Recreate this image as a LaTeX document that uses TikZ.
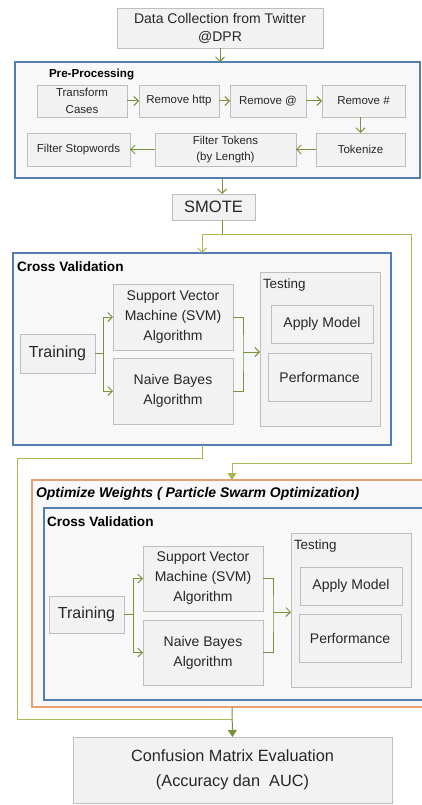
\documentclass[tikz,border=0pt]{standalone}
\usepackage{fontspec}
\setmainfont{Liberation Sans}
\usetikzlibrary{arrows.meta,shadows}
\definecolor{boxFill}{RGB}{242,242,242}
\definecolor{boxLine}{RGB}{190,190,190}
\definecolor{panelFill}{RGB}{248,248,248}
\definecolor{panelBlue}{RGB}{84,126,178}
\definecolor{panelOrange}{RGB}{232,160,112}
\definecolor{flowColor}{RGB}{119,147,60}
\definecolor{loopColor}{RGB}{170,184,84}
\definecolor{textColor}{RGB}{38,38,38}
\begin{document}
\begin{tikzpicture}[x=1pt,y=-1pt,
  stepbox/.style={draw=boxLine,line width=0.6pt,fill=boxFill,text=textColor,align=center,
    inner sep=0pt,outer sep=0pt,drop shadow={opacity=0.25,shadow xshift=1.2pt,shadow yshift=-1.2pt}},
  panel/.style={draw=panelBlue,line width=1.3pt,fill=panelFill,inner sep=0pt,outer sep=0pt,
    drop shadow={opacity=0.2,shadow xshift=1.2pt,shadow yshift=-1.2pt}},
  head/.style={text=black,anchor=west,inner sep=0pt,outer sep=0pt},
  small/.style={font=\fontsize{11.5}{16.5}\selectfont},
  mid/.style={font=\fontsize{14}{20}\selectfont},
  big/.style={font=\fontsize{16}{20}\selectfont},
  flow/.style={draw=flowColor,line width=1pt,-{Straight Barb[length=4.5pt,width=9pt]}},
  flowfill/.style={draw=flowColor,line width=1pt,-{Triangle[length=7pt,width=9pt]}},
  link/.style={draw=flowColor,line width=1pt},
  loop/.style={draw=loopColor,line width=1pt}]
\path[use as bounding box,fill=white] (0,0) rectangle (421,805);

\node[stepbox,font=\fontsize{14}{18}\selectfont,minimum width=206pt,minimum height=40pt] (data) at (220,28) {Data Collection from Twitter\\@DPR};

\node[panel,minimum width=405pt,minimum height=116pt] (prep) at (217.5,120) {};
\node[head,font=\bfseries\fontsize{11.6}{14}\selectfont] (prepTitle) at (49,75) {Pre-Processing};
\node[stepbox,small,minimum width=90pt,minimum height=32pt] (transform) at (82,101) {Transform\\Cases};
\node[stepbox,small,minimum width=80pt,minimum height=32pt] (http) at (179,101) {Remove http};
\node[stepbox,small,minimum width=76pt,minimum height=32pt] (mention) at (268,101) {Remove @};
\node[stepbox,small,minimum width=83pt,minimum height=32pt] (hashtag) at (363.5,101) {Remove \#};
\node[stepbox,small,minimum width=89pt,minimum height=33pt] (tokenize) at (360.5,149.5) {Tokenize};
\node[stepbox,small,minimum width=141pt,minimum height=33pt] (filterTok) at (225.5,149.5) {Filter Tokens\\(by Length)};
\node[stepbox,small,minimum width=103pt,minimum height=33pt] (stopword) at (78.5,149.5) {Filter Stopwords};

\node[stepbox,font=\fontsize{16.5}{20}\selectfont,minimum width=83pt,minimum height=26pt] (smote) at (213.5,207) {SMOTE};

\node[panel,minimum width=378pt,minimum height=192pt] (cvA) at (202,349) {};
\node[head,font=\bfseries\fontsize{13.6}{16}\selectfont] (cvTitleA) at (17,267) {Cross Validation};
\node[stepbox,big,minimum width=75pt,minimum height=39pt] (trainA) at (57.5,353.5) {Training};
\node[stepbox,mid,minimum width=120pt,minimum height=66pt] (svmA) at (173,317) {Support Vector\\Machine (SVM)\\Algorithm};
\node[stepbox,mid,minimum width=120pt,minimum height=66pt] (nbA) at (173,391) {Naive Bayes\\Algorithm};
\node[stepbox,minimum width=120pt,minimum height=154pt] (testA) at (320,349) {};
\node[head,text=textColor,font=\fontsize{13.4}{16}\selectfont] (testTitleA) at (263,285) {Testing};
\node[stepbox,mid,minimum width=102pt,minimum height=38pt] (applyA) at (322,324) {Apply Model};
\node[stepbox,mid,minimum width=103pt,minimum height=48pt] (perfA) at (319.5,377) {Performance};

\node[panel,draw=panelOrange,minimum width=400pt,minimum height=227pt] (pso) at (232,593.5) {};
\node[head,font=\bfseries\itshape\fontsize{14}{16}\selectfont] (psoTitle) at (36,494) {Optimize Weights ( Particle Swarm Optimization)};
\node[panel,minimum width=386pt,minimum height=192pt] (cvB) at (237,604) {};
\node[head,font=\bfseries\fontsize{13.6}{16}\selectfont] (cvTitleB) at (47,522) {Cross Validation};
\node[stepbox,big,minimum width=75pt,minimum height=37pt] (trainB) at (86.5,614.5) {Training};
\node[stepbox,mid,minimum width=120pt,minimum height=65pt] (svmB) at (203,578.5) {Support Vector\\Machine (SVM)\\Algorithm};
\node[stepbox,mid,minimum width=120pt,minimum height=65pt] (nbB) at (203,652.5) {Naive Bayes\\Algorithm};
\node[stepbox,minimum width=120pt,minimum height=154pt] (testB) at (351,610) {};
\node[head,text=textColor,font=\fontsize{13.4}{16}\selectfont] (testTitleB) at (294,546) {Testing};
\node[stepbox,mid,minimum width=102pt,minimum height=38pt] (applyB) at (351,586) {Apply Model};
\node[stepbox,mid,minimum width=102pt,minimum height=48pt] (perfB) at (350,638) {Performance};

\node[stepbox,font=\fontsize{16.3}{25}\selectfont,minimum width=319pt,minimum height=66pt] (conf) at (232.5,770) {Confusion Matrix Evaluation\\(Accuracy dan\ \ AUC)};

\coordinate (split) at (222,234);
\coordinate (rightTurn) at (411,463);
\coordinate (leftTurn) at (17,458);
\coordinate (merge) at (232,719);
\coordinate (joinA) at (243,352);
\coordinate (joinB) at (273,612);

\draw[flow] (data.south) -- (data.south |- prep.north);
\draw[flow] (transform) -- (http);
\draw[flow] (http) -- (mention);
\draw[flow] (mention) -- (hashtag);
\draw[flow] (hashtag.south -| tokenize.north) -- (tokenize.north);
\draw[flow] (tokenize) -- (filterTok);
\draw[flow] (filterTok) -- (stopword);
\draw[flow] (prep.south -| split) -- (smote.north -| split);
\draw[link] (smote.south -| split) -- (split);
\draw[flow,draw=loopColor] (split) -| (cvA.north);
\draw[flowfill,draw=loopColor] (split) -| (rightTurn) -| (pso.north);

\draw[flow] (trainA.east) -- ++(8,0) |- (svmA.west);
\draw[flow] (trainA.east) -- ++(8,0) |- (nbA.west);
\draw[link] (svmA.east) -| (joinA) |- (nbA.east);
\draw[flow] (joinA) -- (joinA -| testA.west);

\draw[flow] (trainB.east) -- ++(9,0) |- (svmB.west);
\draw[flow] (trainB.east) -- ++(9,0) |- (nbB.west);
\draw[link] (svmB.east) -| (joinB) |- (nbB.east);
\draw[flow] (joinB) -- (joinB -| testB.west);

\draw[loop] (cvA.south) |- (leftTurn) |- (merge);
\draw[flowfill] (pso.south) -- (conf.north);
\end{tikzpicture}
\end{document}
